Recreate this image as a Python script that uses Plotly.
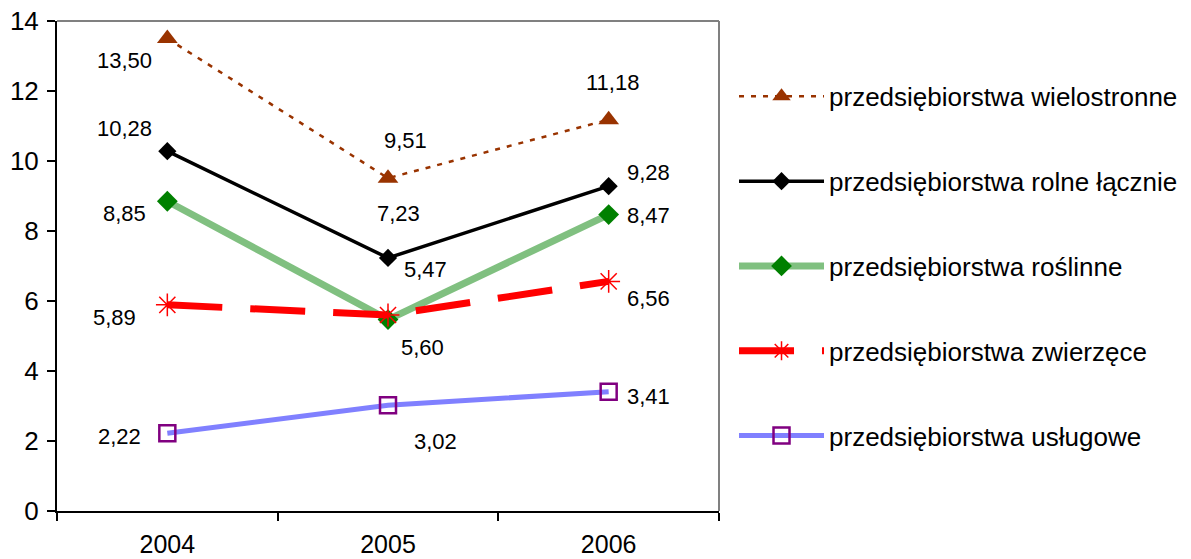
import plotly.graph_objects as go

years = ["2004", "2005", "2006"]
series_names = [
    "przedsiębiorstwa wielostronne",
    "przedsiębiorstwa rolne łącznie",
    "przedsiębiorstwa roślinne",
    "przedsiębiorstwa zwierzęce",
    "przedsiębiorstwa usługowe",
]
wielostronne = [13.50, 9.51, 11.18]
rolne = [10.28, 7.23, 9.28]
roslinne = [8.85, 5.47, 8.47]
zwierzece = [5.89, 5.60, 6.56]
uslugowe = [2.22, 3.02, 3.41]
y_ticks = [0, 2, 4, 6, 8, 10, 12, 14]

series_values = [wielostronne, rolne, roslinne, zwierzece, uslugowe]

FONT = "Liberation Sans, Arial, sans-serif"

styles = [
    dict(line=dict(color="#993300", width=2.5, dash="5px,7px"),
         marker=dict(symbol="triangle-up", size=18, color="#993300")),
    dict(line=dict(color="#000000", width=3.5),
         marker=dict(symbol="diamond", size=14, color="#000000")),
    dict(line=dict(color="#80c080", width=7),
         marker=dict(symbol="diamond", size=16, color="#008000")),
    dict(line=dict(color="#ff0000", width=7, dash="55px,28px"),
         marker=dict(symbol="asterisk-open", size=19, color="#ff0000",
                     line=dict(color="#ff0000", width=1.5))),
    dict(line=dict(color="#8080ff", width=5),
         marker=dict(symbol="square-open", size=16, color="#800080",
                     line=dict(color="#800080", width=2.5))),
]

# label offsets in pixels (dx, dy) per series per year
label_offsets = [
    [(-43, -22), (17, 38), (4, 37)],
    [(-43, 23), (10, 44), (40, 14)],
    [(-43, -12), (37, 50), (40, -1)],
    [(-53, -13), (34, -32), (40, -17)],
    [(-48, -3), (47, -36), (40, -5)],
]

xpos = list(range(len(years)))

fig = go.Figure()
for i, (name, vals, st) in enumerate(zip(series_names, series_values, styles)):
    fig.add_trace(go.Scatter(
        x=xpos, y=vals, name=name, mode="lines+markers",
        line=st["line"], marker=st["marker"], legendgroup=f"g{i}",
    ))

annotations = []
for vals, offs in zip(series_values, label_offsets):
    for xi, (v, (dx, dy)) in enumerate(zip(vals, offs)):
        annotations.append(dict(
            x=xi, y=v, xref="x", yref="y", text=f"{v:.2f}".replace(".", ","),
            showarrow=False, xshift=dx, yshift=dy,
            font=dict(family=FONT, size=22, color="black"),
        ))

fig.update_layout(
    width=1191, height=559,
    margin=dict(l=57, r=472, t=21, b=48),
    paper_bgcolor="white", plot_bgcolor="white",
    font=dict(family=FONT, size=26, color="black"),
    showlegend=True,
    legend=dict(
        xref="container", x=0.6163, y=0.894, xanchor="left", yanchor="top",
        traceorder="grouped", tracegroupgap=48, itemwidth=85,
        font=dict(family=FONT, size=26, color="black"), bgcolor="rgba(0,0,0,0)",
    ),
    annotations=annotations,
    shapes=[
        dict(type="line", xref="paper", yref="paper", x0=0, x1=1, y0=1, y1=1,
             line=dict(color="#808080", width=2)),
        dict(type="line", xref="paper", yref="paper", x0=1, x1=1, y0=0, y1=1,
             line=dict(color="#808080", width=2)),
    ],
)

fig.update_xaxes(
    range=[-0.5, 2.5], tickvals=xpos, ticktext=years, ticks="",
    showline=True, linecolor="black", linewidth=2, showgrid=False, zeroline=False,
    ticklabelstandoff=10, automargin=False, ticklabeloverflow="allow",
    tickfont=dict(size=25),
    minor=dict(tickvals=[-0.5, 0.5, 1.5, 2.5], ticks="outside", ticklen=8,
               tickcolor="black", tickwidth=2, showgrid=False),
)
fig.update_yaxes(
    range=[0, 14], tickvals=y_ticks, ticks="outside", ticklen=8, tickwidth=2,
    tickcolor="black", showline=True, linecolor="black", linewidth=2,
    showgrid=False, zeroline=False, ticklabelstandoff=3, automargin=False,
    ticklabeloverflow="allow",
)

fig.write_html(
    "out.html",
    config={"displayModeBar": False},
    post_script="document.body.style.margin='0px';document.body.style.overflow='hidden';",
)
